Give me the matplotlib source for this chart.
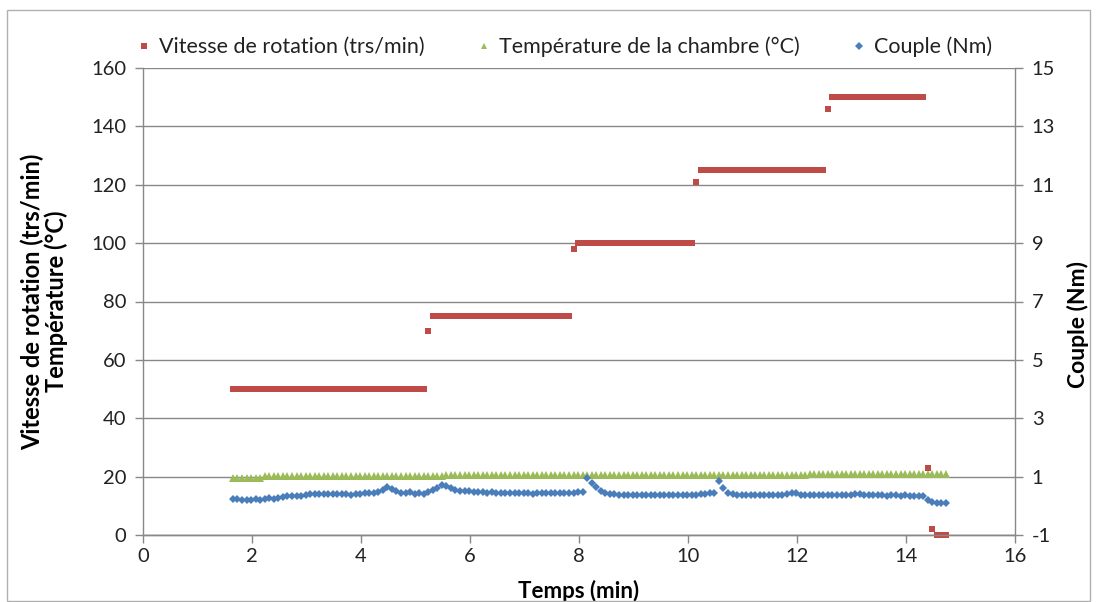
import numpy as np
import matplotlib
matplotlib.use("Agg")
import matplotlib.pyplot as plt
from matplotlib.lines import Line2D
from matplotlib.patches import Rectangle

plt.rcParams['font.family'] = ['Lato', 'DejaVu Sans']
plt.rcParams['axes.unicode_minus'] = False

# Sampling: one reading every 5 s, starting at 1.65 min
t_start = 1.65
n_samples = 158
temps_min = t_start + np.arange(n_samples) / 12.0

# Rotation speed (trs/min), stored as run-length pairs
vitesse_levels = [50, 70, 75, 98, 100, 121, 125, 146, 150, 23, 2, 0]
vitesse_counts = [43, 1, 31, 1, 26, 1, 28, 1, 21, 1, 1, 3]

# Chamber temperature (°C), run-length pairs
temperature_levels = [19.6, 20.2, 20.4, 20.6, 20.8]
temperature_counts = [7, 40, 50, 30, 31]

# Torque (Nm), one value per sample
couple = [
    0.25, 0.22, 0.20, 0.21, 0.20, 0.22,
    0.20, 0.24, 0.26, 0.23, 0.28, 0.30,
    0.33, 0.32, 0.35, 0.34, 0.38, 0.40,
    0.40, 0.39, 0.41, 0.42, 0.40, 0.41,
    0.42, 0.40, 0.38, 0.40, 0.42, 0.44,
    0.43, 0.45, 0.48, 0.55, 0.65, 0.58,
    0.50, 0.45, 0.44, 0.48, 0.42, 0.45,
    0.42, 0.48, 0.55, 0.62, 0.72, 0.68,
    0.60, 0.55, 0.52, 0.50, 0.50, 0.48,
    0.47, 0.46, 0.45, 0.46, 0.44, 0.43,
    0.44, 0.43, 0.43, 0.44, 0.43, 0.43,
    0.42, 0.43, 0.44, 0.43, 0.45, 0.44,
    0.43, 0.44, 0.45, 0.43, 0.46, 0.47,
    0.95, 0.78, 0.65, 0.50, 0.45, 0.42,
    0.40, 0.38, 0.37, 0.37, 0.36, 0.37,
    0.37, 0.36, 0.37, 0.37, 0.36, 0.37,
    0.37, 0.37, 0.36, 0.37, 0.38, 0.37,
    0.38, 0.40, 0.42, 0.43, 0.44, 0.85,
    0.60, 0.45, 0.40, 0.38, 0.37, 0.36,
    0.37, 0.36, 0.37, 0.37, 0.36, 0.37,
    0.37, 0.38, 0.40, 0.45, 0.43, 0.38,
    0.37, 0.37, 0.36, 0.37, 0.37, 0.36,
    0.37, 0.36, 0.37, 0.38, 0.37, 0.40,
    0.42, 0.38, 0.37, 0.36, 0.37, 0.36,
    0.35, 0.37, 0.36, 0.35, 0.36, 0.34,
    0.33, 0.35, 0.33, 0.20, 0.12, 0.10,
    0.10, 0.08,
]

vitesse = np.repeat(vitesse_levels, vitesse_counts)
temperature = np.repeat(temperature_levels, temperature_counts)

RED = '#BE4B48'
GREEN = '#9BBB59'
BLUE = '#4A7EBB'
GRID = '#888888'
TXT = '#000000'

fig = plt.figure(figsize=(10.96, 6.02), dpi=100)
fig.patches.append(Rectangle((7 / 1096, 1 / 602), 1083 / 1096, 591 / 602,
                             transform=fig.transFigure, fill=False,
                             edgecolor='#b0b0b0', linewidth=1.0))

ax = fig.add_axes([143 / 1096, 67 / 602, 872 / 1096, 467 / 602])
ax2 = ax.twinx()

ax.set_xlim(0, 16)
ax.set_ylim(0, 160)
ax2.set_ylim(-1, 15)
ax.set_xticks(np.arange(0, 17, 2))
ax.set_yticks(np.arange(0, 161, 20))
ax2.set_yticks(np.arange(-1, 16, 2))

ax.grid(axis='y', color=GRID, linewidth=1.0)
ax.set_axisbelow(True)

for a in (ax, ax2):
    a.spines['top'].set_visible(False)
    for s in ('left', 'right', 'bottom'):
        a.spines[s].set_color(GRID)
        a.spines[s].set_linewidth(1.0)
    a.tick_params(colors=GRID, labelcolor='#222222', labelsize=14.5,
                  length=6, width=1.0, direction='out')
ax2.spines['left'].set_visible(False)
ax.spines['right'].set_visible(False)
ax.tick_params(axis='x', pad=3)
ax.tick_params(axis='y', pad=6)
ax2.tick_params(axis='y', pad=6)

ax.plot(temps_min, temperature, linestyle='none', marker='^',
        markersize=5.4, color=GREEN, markeredgewidth=0, zorder=3,
        clip_on=False)
ax.plot(temps_min, vitesse, linestyle='none', marker='s',
        markersize=4.8, color=RED, markeredgewidth=0, zorder=4,
        clip_on=False)
ax2.plot(temps_min, couple, linestyle='none', marker='D',
         markersize=4.2, color=BLUE, markeredgewidth=0, zorder=3)

ax.set_xlabel('Temps (min)', fontsize=16, fontweight='bold', labelpad=11,
              color=TXT)
ax.set_ylabel('Vitesse de rotation (trs/min)\nTempérature (°C)',
              fontsize=17, fontweight='bold', color=TXT, labelpad=17,
              linespacing=1.0)
ax2.set_ylabel('Couple (Nm)', fontsize=16.5, fontweight='bold', color=TXT,
               labelpad=10)
ax2.yaxis.set_label_coords(1.06, 0.45)

handles = [
    Line2D([], [], linestyle='none', marker='s', markersize=5,
           color=RED, markeredgewidth=0),
    Line2D([], [], linestyle='none', marker='^', markersize=5,
           color=GREEN, markeredgewidth=0),
    Line2D([], [], linestyle='none', marker='D', markersize=4,
           color=BLUE, markeredgewidth=0),
]
labels = ['Vitesse de rotation (trs/min)',
          'Température de la chambre (°C)',
          'Couple (Nm)']
fig.legend(handles, labels, loc='center', bbox_to_anchor=(565 / 1096, 1 - 47 / 602),
           ncol=3, frameon=False, fontsize=15.5, handlelength=0.5,
           handletextpad=0.45, columnspacing=2.5, labelcolor='#222222')

fig.savefig('out.png', dpi=100)
